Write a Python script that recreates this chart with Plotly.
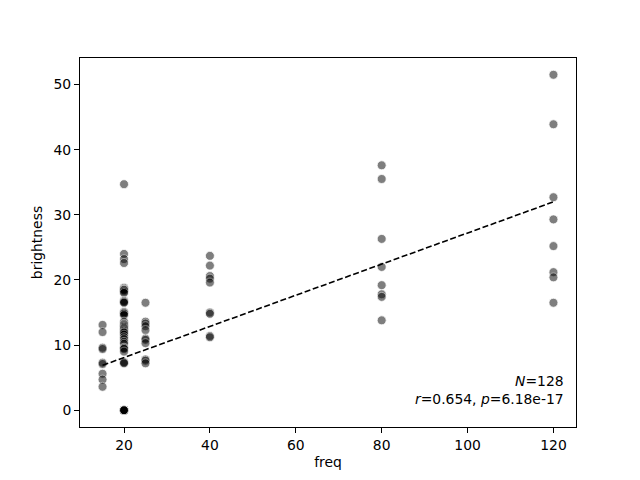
import numpy as np
import plotly.graph_objects as go

# ---- data ----
freq_15 = [13.1, 12.0, 9.6, 9.4, 7.3, 7.1, 5.6, 4.7, 3.6]
freq_20 = [34.7, 24.0, 23.2, 22.6,
           18.8, 18.6, 18.5, 18.5, 18.4, 18.2, 18.0,
           16.8, 16.7, 16.6, 16.5,
           15.1, 15.0, 14.9, 14.8, 14.6,
           13.6, 13.2, 13.0, 12.8, 12.6, 12.4, 12.2, 12.0, 11.9, 11.6, 11.2, 10.9, 10.5, 10.2,
           9.6, 9.5, 9.4, 9.0,
           7.4, 7.3, 7.2] + [0.0] * 42
freq_25 = [16.5, 13.6, 13.3, 12.9, 12.3, 11.0, 10.8, 10.3, 7.8, 7.6, 7.2]
freq_40 = [23.7, 22.2, 20.6, 20.2, 19.6, 15.0, 14.8, 11.4, 11.2]
freq_80 = [37.6, 35.5, 26.3, 22.0, 19.2, 17.8, 17.4, 13.8]
freq_120 = [51.5, 43.9, 32.7, 29.3, 25.2, 21.2, 20.4, 16.5]

groups = {15: freq_15, 20: freq_20, 25: freq_25, 40: freq_40, 80: freq_80, 120: freq_120}
x = np.concatenate([[k] * len(v) for k, v in groups.items()]).astype(float)
y = np.concatenate([v for v in groups.values()]).astype(float)

stats_text = "<i>N</i>=128<br><i>r</i>=0.654, <i>p</i>=6.18e-17"

slope, intercept = np.polyfit(x, y, 1)
fit_x = np.array([x.min(), x.max()])
fit_y = intercept + slope * fit_x

def padded(lo, hi, frac=0.05):
    d = (hi - lo) * frac
    return [lo - d, hi + d]

font = dict(family="DejaVu Sans", size=13.9, color="black")

fig = go.Figure()
fig.add_trace(go.Scatter(
    x=x, y=y, mode="markers",
    marker=dict(size=9, color="black", opacity=0.5,
                line=dict(color="white", width=0.8)),
    showlegend=False, hoverinfo="skip"))
fig.add_trace(go.Scatter(
    x=fit_x, y=fit_y, mode="lines",
    line=dict(color="black", width=1.6, dash="6px,2.6px"),
    showlegend=False, hoverinfo="skip"))

axis_common = dict(showgrid=False, zeroline=False, showline=True, linecolor="black",
                   linewidth=1, mirror=True, ticks="outside", ticklen=5, tickwidth=1,
                   tickcolor="black", tickfont=font)

fig.update_xaxes(range=padded(x.min(), x.max()), tick0=20, dtick=20,
                 title=dict(text="freq", font=font, standoff=5), **axis_common)
fig.update_yaxes(range=padded(y.min(), y.max()), tick0=0, dtick=10,
                 title=dict(text="brightness", font=font, standoff=7), **axis_common)

fig.add_annotation(xref="paper", yref="paper", x=0.98, y=0.05,
                   xanchor="right", yanchor="bottom", align="right",
                   text=stats_text, showarrow=False, font=font)

fig.update_layout(width=640, height=480, plot_bgcolor="white", paper_bgcolor="white",
                  margin=dict(l=80, r=64, t=58, b=53), font=font)

fig.write_html("out.html")
